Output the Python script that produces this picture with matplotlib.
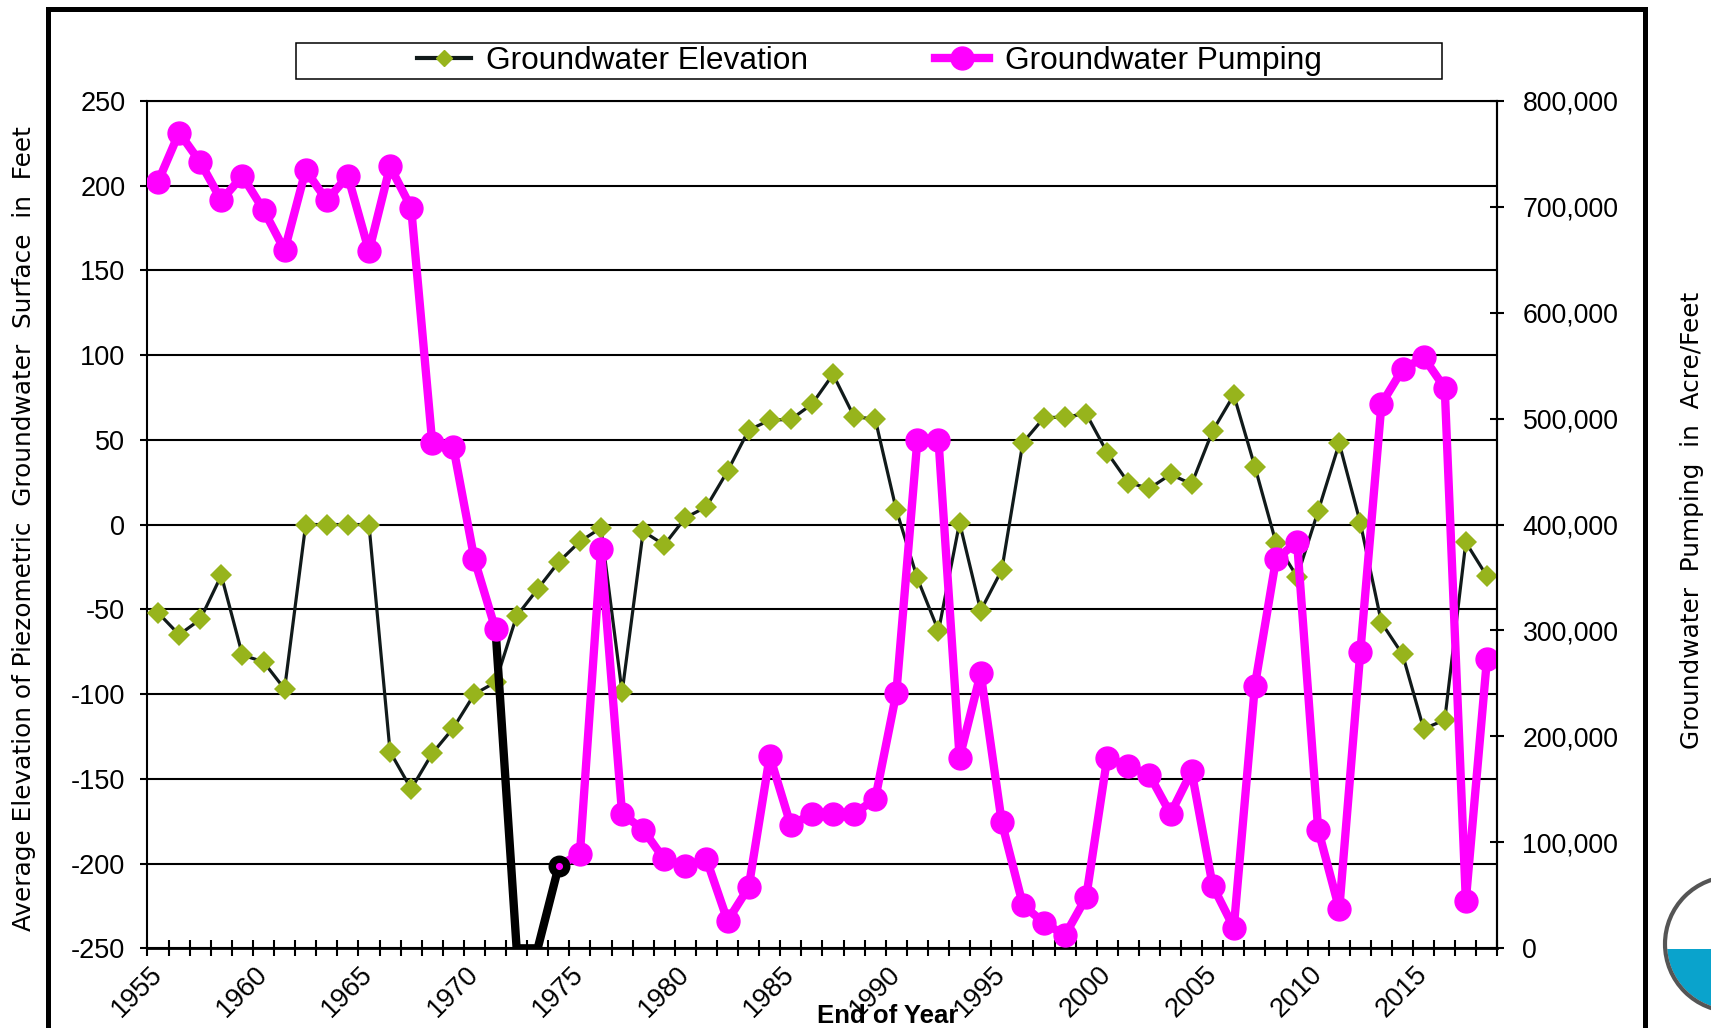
import numpy as np
import matplotlib
matplotlib.use('Agg')
import matplotlib.pyplot as plt
from matplotlib.lines import Line2D
from matplotlib.patches import Rectangle, Circle
from matplotlib.ticker import FixedLocator, FuncFormatter

years = np.arange(1955, 2019)

# average elevation of piezometric groundwater surface (feet)
elevation = [-52, -65, -56, -30, -77, -81, -97, 0, 0, 0,
             0, -134, -156, -135, -120, -100, -93, -54, -38, -22,
             -10, -2, -99, -4, -12, 4, 10.5, 31.5, 55.7, 61.6,
             62, 71, 88.6, 63.6, 62.2, 8.6, -31.8, -62.8, 1.1, -50.8,
             -26.8, 48.3, 63, 63.4, 65.4, 42.4, 24.7, 21.3, 29.6, 23.9,
             55.3, 76.4, 34.1, -10.7, -30.8, 8, 47.9, 0.9, -57.9, -76.6,
             -120.5, -115.3, -10.5, -30.5]

# groundwater pumping (acre-feet)
pumping = [723500, 770000, 742000, 706000, 729000, 697000, 659000, 734500, 706000, 729000,
           658000, 738000, 699000, 477000, 473000, 367000, 301000, 0, 0, 78000,
           89000, 377000, 127000, 112000, 84000, 78000, 84000, 26000, 57500, 181500,
           116000, 127000, 127000, 127000, 141000, 240700, 480000, 480000, 180000, 259600,
           119000, 41000, 24000, 12500, 48000, 180000, 172000, 163600, 127000, 167000,
           59000, 19500, 248000, 367000, 383800, 112000, 37000, 280000, 513700, 546500,
           557800, 529000, 45000, 272800]

# years with no pumping record, drawn as a black segment
gap_start, gap_end = 1971, 1974

OLIVE = '#97B41C'
MAGENTA = '#FF00FF'
DARK = '#111a1a'

plt.rcParams['font.family'] = ['Liberation Sans', 'DejaVu Sans']
plt.rcParams['axes.unicode_minus'] = False

fig = plt.figure(figsize=(17.11, 10.28), dpi=100)
ax = fig.add_axes([0.0862, 0.0775, 0.7890, 0.8245])
ax2 = ax.twinx()

elev = np.array(elevation, float)
pump = np.array(pumping, float)

ax.plot(years, elev, color=DARK, lw=2.3, marker='D', ms=11,
        mfc=OLIVE, mec=OLIVE, mew=0, zorder=3)

black = (years >= gap_start) & (years <= gap_end)
before = years <= gap_start
after = years >= gap_end
ax2.plot(years[black], pump[black], color='black', lw=6)
ax2.plot(years[before], pump[before], color=MAGENTA, lw=6, marker='o', ms=16.5, mec=MAGENTA)
ax2.plot(years[after], pump[after], color=MAGENTA, lw=6, marker='o', ms=16.5, mec=MAGENTA,
         markevery=list(range(1, after.sum())))
ax2.plot(years[years == gap_end], pump[years == gap_end], ls='none', marker='o', ms=10.5,
         mfc=MAGENTA, mec='black', mew=5.3)

# axes
ax.set_xlim(years[0] - 0.5, years[-1] + 0.5)
ax.set_ylim(-250, 250)
ax2.set_ylim(0, 800000)

ax.yaxis.set_major_locator(FixedLocator(np.arange(-250, 251, 50)))
ax.xaxis.set_major_locator(FixedLocator(years[::5]))
ax.xaxis.set_minor_locator(FixedLocator(np.append(years - 0.5, years[-1] + 0.5)))
ax2.yaxis.set_major_locator(FixedLocator(np.arange(0, 800001, 100000)))
ax2.yaxis.set_major_formatter(FuncFormatter(lambda v, p: f'{int(v):,}'))

ax.yaxis.grid(True, color='black', lw=1.5)
ax.set_axisbelow(True)

ax.tick_params(axis='y', direction='out', length=5, width=1.5, pad=11, labelsize=19.5)
ax.tick_params(axis='x', which='major', length=0, pad=16, labelsize=19.5)
ax.tick_params(axis='x', which='minor', direction='inout', length=11, width=1.5)
ax2.tick_params(axis='y', direction='inout', length=10, width=1.5, pad=13, labelsize=19.2)
for lab in ax.get_xticklabels():
    lab.set_rotation(45)
    lab.set_rotation_mode('anchor')
    lab.set_ha('right')
    lab.set_va('center')

for s in ['left', 'top', 'right']:
    ax.spines[s].set_linewidth(1.5)
ax.spines['bottom'].set_linewidth(2)
for s in ['left', 'top', 'bottom']:
    ax2.spines[s].set_visible(False)
ax2.spines['right'].set_linewidth(1.5)

ax.set_xlabel('End of Year', fontsize=18.5, fontweight='bold')
ax.xaxis.set_label_coords(0.5485, -0.0881)
ax.xaxis.label.set_va('baseline')

ax.set_ylabel('Average Elevation of Piezometric  Groundwater  Surface  in  Feet',
              fontsize=17.8, family='DejaVu Sans')
ax.yaxis.set_label_coords(-0.0915, 0.4947)
ax.yaxis.label.set_va('center')

ax2.set_ylabel('Groundwater  Pumping  in  Acre/Feet', fontsize=17.8, family='DejaVu Sans')
ax2.yaxis.set_label_coords(1.1441, 0.5053)
ax2.yaxis.label.set_va('center')

# legend
handles = [Line2D([], [], color=DARK, lw=3, marker='D', ms=8, mfc=OLIVE, mec=OLIVE),
           Line2D([], [], color=MAGENTA, lw=6, marker='o', ms=16.5, mec=MAGENTA)]
fig.legend(handles, ['Groundwater Elevation', 'Groundwater Pumping'], loc='center',
           bbox_to_anchor=(0.508, 0.9409), ncol=2, frameon=False, fontsize=22.8,
           handlelength=1.7, handletextpad=0.5, columnspacing=4.0)
fig.add_artist(Rectangle((0.1730, 0.92315), 0.6698, 0.0355, transform=fig.transFigure,
                         fill=False, ec='black', lw=1.1))

# outer frame
fig.add_artist(Rectangle((0.02805, -0.1), 0.9334, 1.09125, transform=fig.transFigure,
                         fill=False, ec='black', lw=3.6, clip_on=False))

# partial logo at lower right
clip = Rectangle((16.5, -0.5), 2.0, 1.287, transform=fig.dpi_scale_trans,
                 visible=False)
fig.add_artist(clip)
blue = Circle((17.325, 0.84), 0.655, transform=fig.dpi_scale_trans, fc='#0aa3cc', ec='none')
fig.add_artist(blue)
blue.set_clip_path(clip)
fig.add_artist(Circle((17.325, 0.84), 0.675, transform=fig.dpi_scale_trans,
                      fill=False, ec='#555555', lw=3))

fig.savefig('out.png', dpi=100)
